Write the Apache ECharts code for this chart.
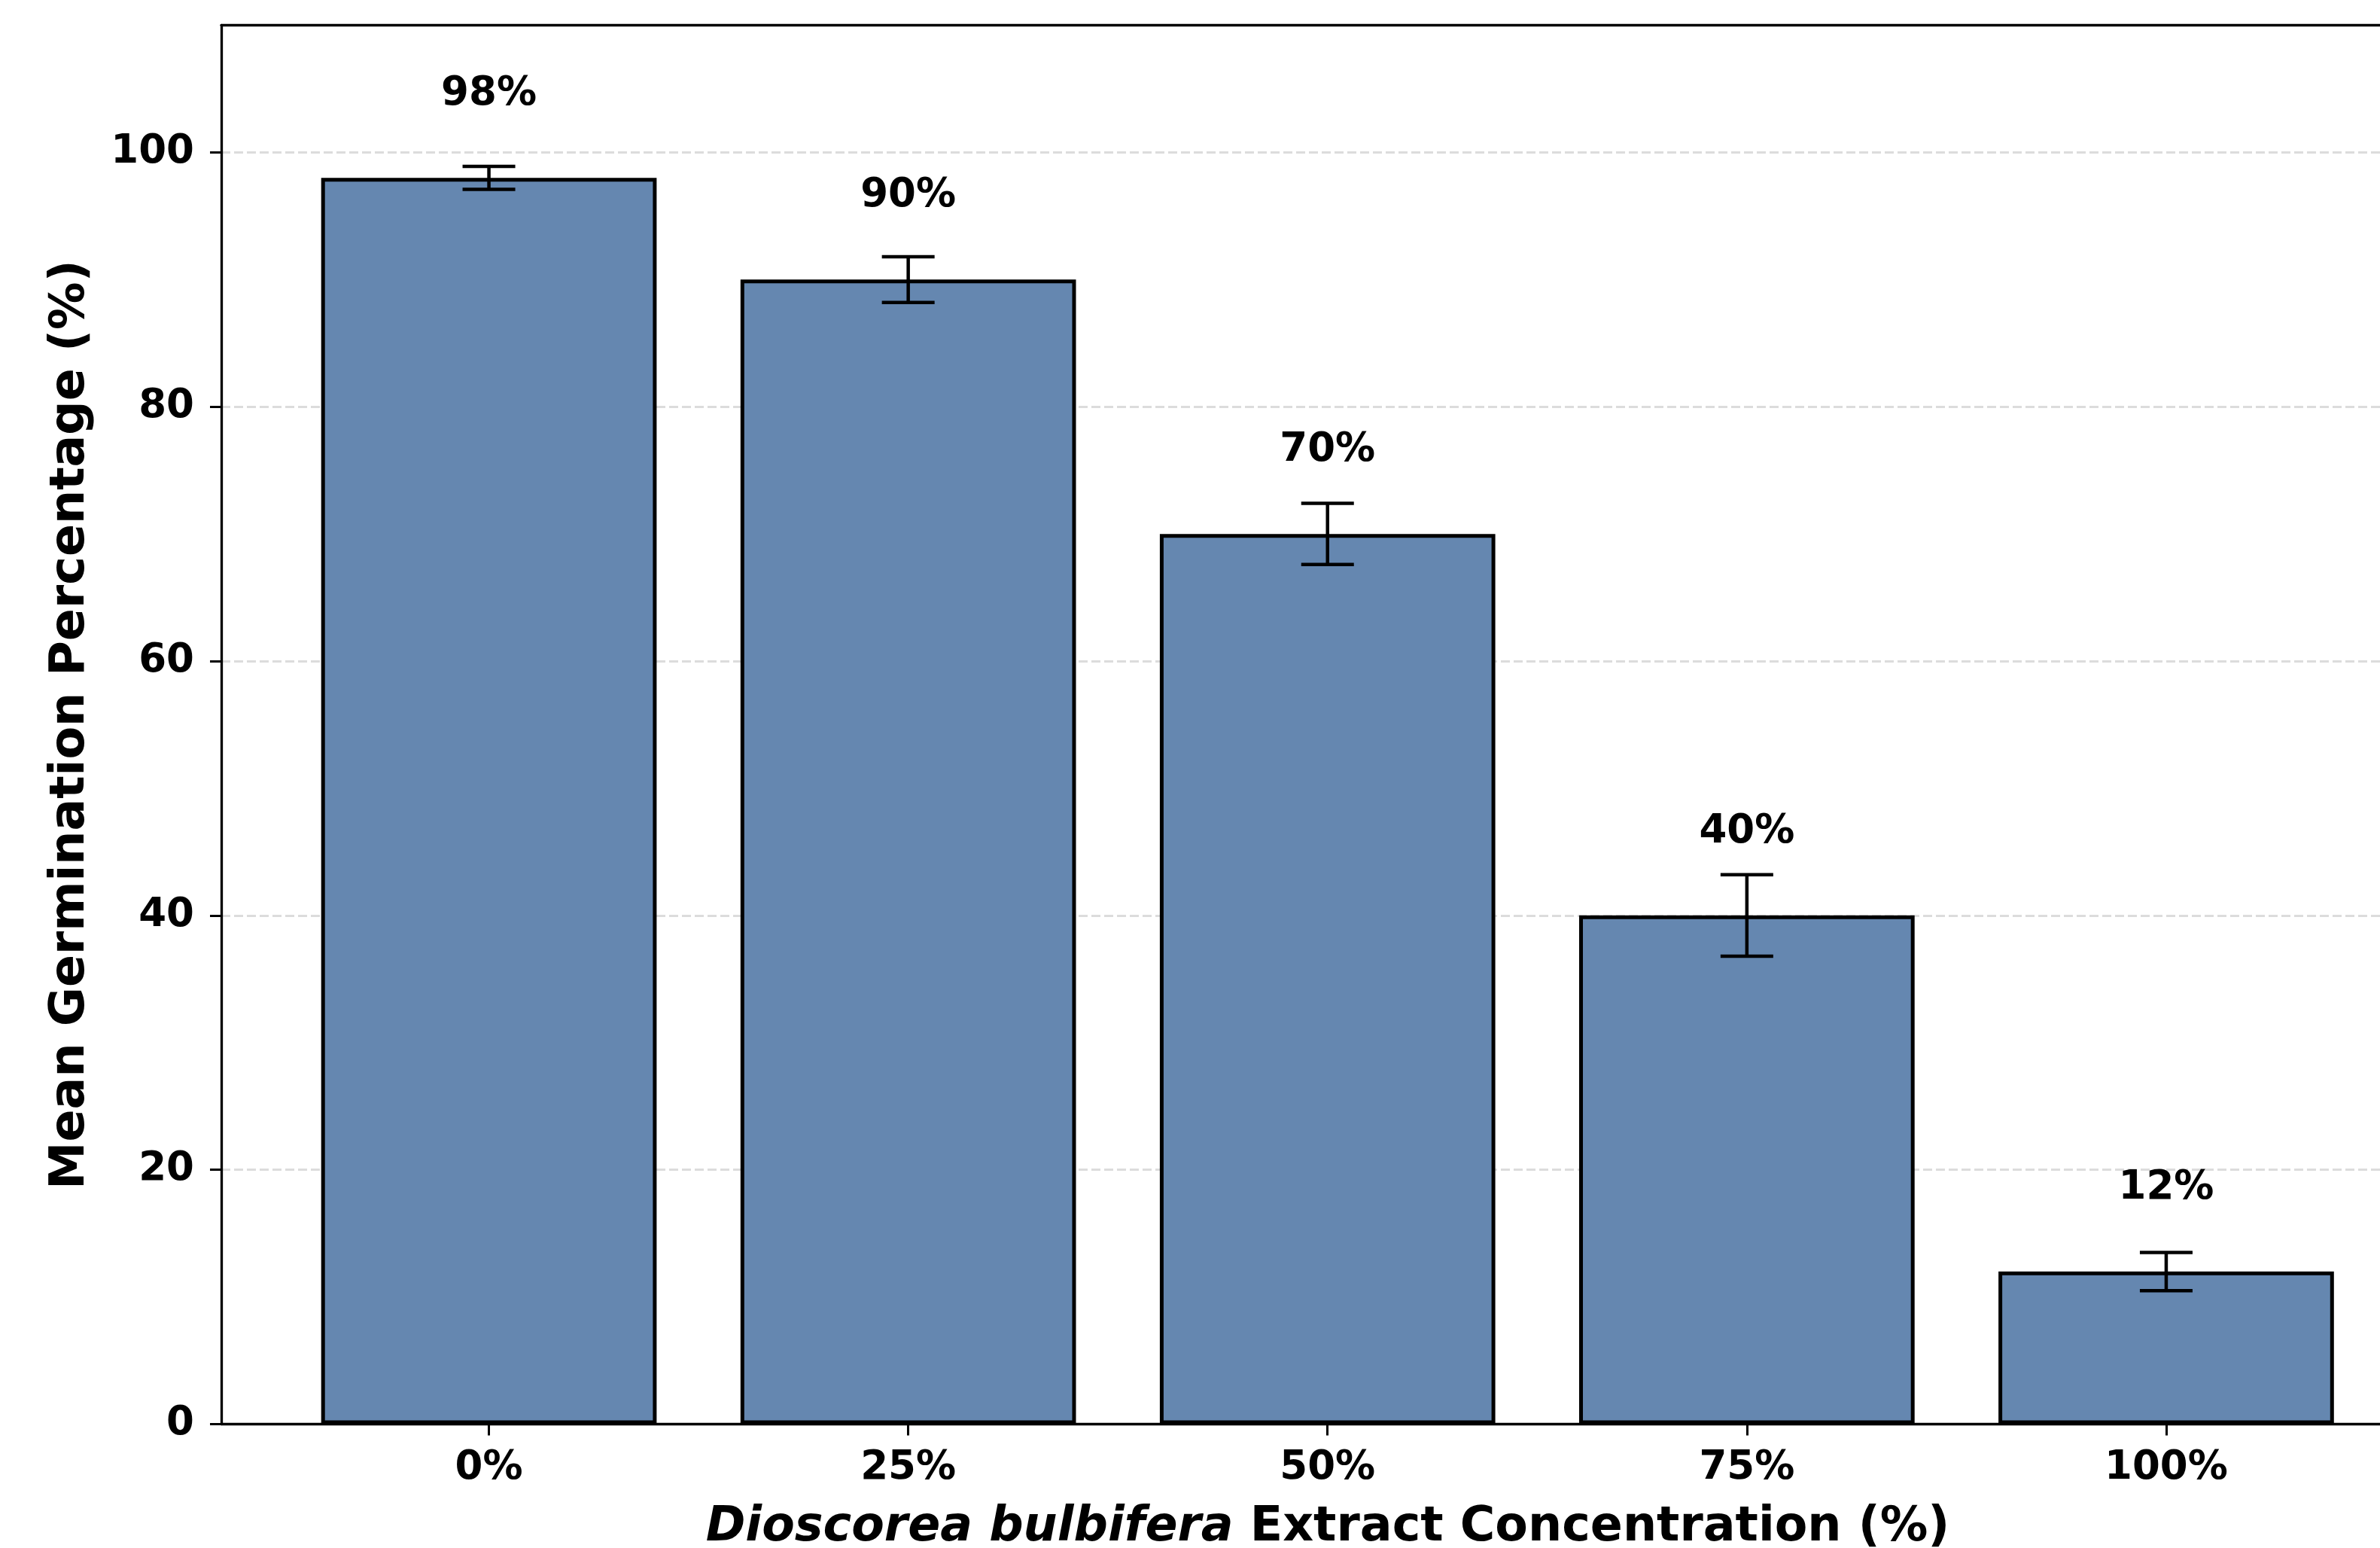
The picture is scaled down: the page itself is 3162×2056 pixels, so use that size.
<!DOCTYPE html>
<html><head><meta charset="utf-8">
<script src="https://cdn.jsdelivr.net/npm/echarts@6/dist/echarts.min.js"></script>
<style>html,body{margin:0;padding:0;background:#fff}#c{width:3162px;height:2056px}</style>
</head><body><div id="c"></div>
<script>
const categories = ['0%', '25%', '50%', '75%', '100%'];
const meanGermination = [98, 90, 70, 40, 12];
const errorSD = [0.9, 1.8, 2.4, 3.2, 1.5];
const yTickValues = [0, 20, 40, 60, 80, 100];

const FONT = '"DejaVu Sans", sans-serif';
const BAR_COLOR = '#6587B0';
const LABEL_OFFSET = 6.55; // data units above bar top (label centre)

const chart = echarts.init(document.getElementById('c'), null, {renderer: 'canvas'});

const gridTop = 33.5, gridBottom = 164.5;

const option = {
  backgroundColor: '#ffffff',
  animation: false,
  grid: [
    {left: 294, right: -72, top: gridTop, bottom: gridBottom, containLabel: false, outerBoundsMode: 'none'},
    {left: 371, right: 5.5, top: gridTop, bottom: gridBottom, containLabel: false, outerBoundsMode: 'none'}
  ],
  xAxis: [
    {
      type: 'value', gridIndex: 0, min: -0.638, max: 4.638, position: 'bottom',
      axisLine: {show: true, onZero: false, lineStyle: {color: '#000', width: 3.3}},
      axisTick: {show: false}, axisLabel: {show: false}, splitLine: {show: false},
      name: '{i|Dioscorea bulbifera} Extract Concentration (%)',
      nameLocation: 'middle', nameGap: 106,
      nameTextStyle: {
        fontFamily: FONT, fontSize: 63.5, fontWeight: 'bold', color: '#000',
        rich: {i: {fontFamily: FONT, fontSize: 63.5, fontWeight: 'bold', fontStyle: 'italic', color: '#000'}}
      }
    },
    {
      type: 'value', gridIndex: 0, min: -0.638, max: 4.638, position: 'top',
      axisLine: {show: true, onZero: false, lineStyle: {color: '#000', width: 3.3}},
      axisTick: {show: false}, axisLabel: {show: false}, splitLine: {show: false}
    },
    {
      type: 'category', gridIndex: 1, data: categories, boundaryGap: true, position: 'bottom',
      axisLine: {show: false, onZero: false},
      axisTick: {show: true, alignWithLabel: true, length: 15, lineStyle: {color: '#000', width: 3}},
      axisLabel: {fontFamily: FONT, fontSize: 53, fontWeight: 'bold', color: '#000', margin: 32},
      splitLine: {show: false}
    }
  ],
  yAxis: [
    {
      type: 'value', gridIndex: 0, min: 0, max: 110, interval: 20,
      axisLine: {show: true, onZero: false, lineStyle: {color: '#000', width: 3.3}},
      axisTick: {show: true, length: 15, lineStyle: {color: '#000', width: 3}, customValues: yTickValues},
      axisLabel: {fontFamily: FONT, fontSize: 53, fontWeight: 'bold', color: '#000', margin: 36,
        padding: [10, 0, 0, 0], customValues: yTickValues},
      splitLine: {show: true, lineStyle: {color: '#dcdcdc', width: 3, type: [12, 5]}},
      name: 'Mean Germination Percentage (%)', nameLocation: 'middle', nameGap: 168, nameRotate: 90,
      nameTextStyle: {fontFamily: FONT, fontSize: 63.5, fontWeight: 'bold', color: '#000'}
    },
    {
      type: 'value', gridIndex: 1, min: 0, max: 110,
      show: false
    }
  ],
  series: [
    {
      type: 'bar', xAxisIndex: 2, yAxisIndex: 1, data: meanGermination, barWidth: '80%',
      itemStyle: {color: BAR_COLOR, borderColor: '#000', borderWidth: 5},
      z: 3
    },
    {
      type: 'custom', xAxisIndex: 2, yAxisIndex: 1, z: 5,
      data: categories.map((c, i) => [i, meanGermination[i], errorSD[i]]),
      renderItem(params, api) {
        const i = api.value(0), v = api.value(1), e = api.value(2);
        const top = api.coord([i, v + e]);
        const bot = api.coord([i, v - e]);
        const cw = 35;
        const st = {stroke: '#000', lineWidth: 4.5};
        return {type: 'group', children: [
          {type: 'line', shape: {x1: top[0], y1: top[1], x2: bot[0], y2: bot[1]}, style: st},
          {type: 'line', shape: {x1: top[0] - cw, y1: top[1], x2: top[0] + cw, y2: top[1]}, style: st},
          {type: 'line', shape: {x1: bot[0] - cw, y1: bot[1], x2: bot[0] + cw, y2: bot[1]}, style: st}
        ]};
      }
    },
    {
      type: 'custom', xAxisIndex: 2, yAxisIndex: 1, z: 6,
      data: categories.map((c, i) => [i, meanGermination[i]]),
      renderItem(params, api) {
        const i = api.value(0), v = api.value(1);
        const p = api.coord([i, v + LABEL_OFFSET]);
        return {type: 'text', style: {
          text: v + '%', x: p[0], y: p[1], align: 'center', verticalAlign: 'middle',
          fontFamily: FONT, fontSize: 53, fontWeight: 'bold', fill: '#000'
        }};
      }
    }
  ]
};
chart.setOption(option);
</script>
</body></html>
